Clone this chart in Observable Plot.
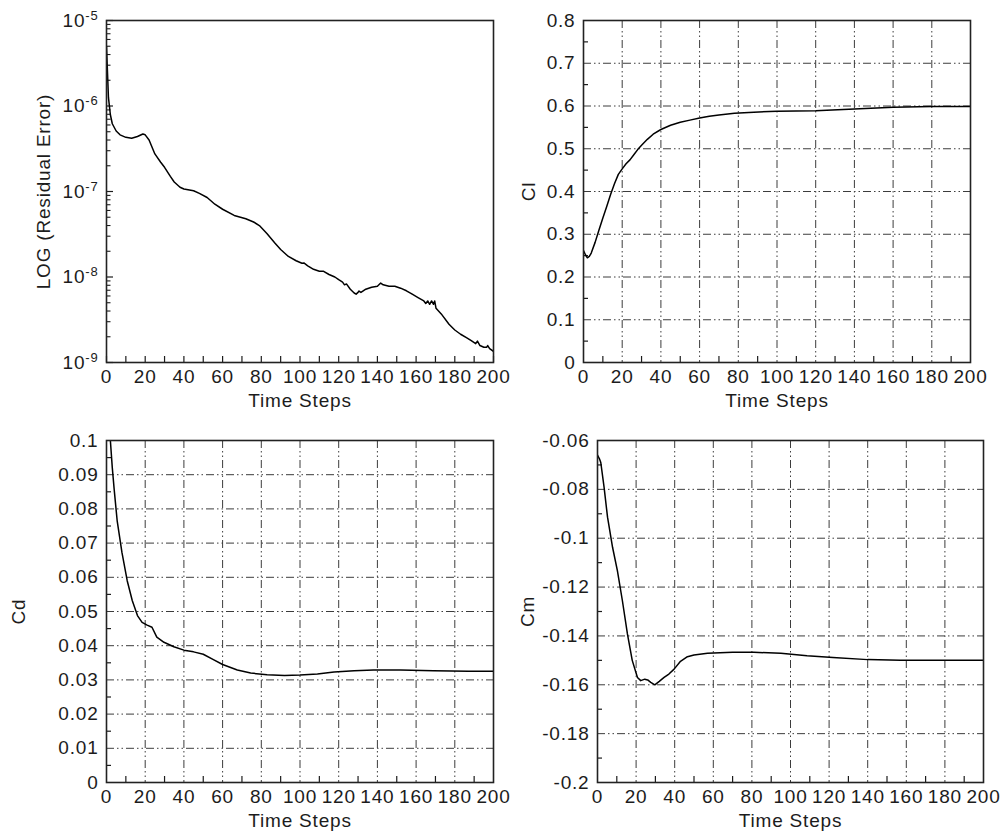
<!DOCTYPE html>
<html>
<head>
<meta charset="utf-8">
<script src="https://cdn.jsdelivr.net/npm/d3@7"></script>
<script src="https://cdn.jsdelivr.net/npm/@observablehq/plot@0.6"></script>
<style>
  body { margin: 0; background: #fff; }
  #wrap { position: relative; width: 1007px; height: 835px; background: #fff; }
  #wrap svg { position: absolute; overflow: visible; }
  #wrap svg text { letter-spacing: 0.8px; }
</style>
</head>
<body>
<div id="wrap"></div>
<script>
// ---------- Data ----------
const xLabel = "Time Steps";
const xTickValues = [0, 20, 40, 60, 80, 100, 120, 140, 160, 180, 200];

// Panel 1: residual error (log scale)
const residualSteps = [0, 0.5, 1, 2, 3, 5, 7, 10, 13, 16, 18.8, 20, 22, 25, 28, 30, 33, 35, 38, 40, 45, 48, 52, 56, 60, 66, 72, 76, 79, 83, 87, 90, 94, 98, 101, 102, 104, 107, 110, 112, 115, 118, 120, 122, 123, 124, 126, 128, 129, 130, 130.5, 131.5, 134, 137, 140, 141.7, 143, 146, 149, 152, 155, 158, 161, 164, 165, 166, 167, 168, 169, 169.6, 170.3, 173, 177, 180, 183, 186, 188.5, 190.8, 191.7, 193, 195, 196.5, 197, 198, 200];
const residualValues = [5.0e-6, 2.5e-6, 1.26e-6, 7.9e-7, 6.2e-7, 5.1e-7, 4.6e-7, 4.3e-7, 4.2e-7, 4.4e-7, 4.7e-7, 4.6e-7, 4.0e-7, 2.75e-7, 2.2e-7, 1.92e-7, 1.5e-7, 1.29e-7, 1.12e-7, 1.07e-7, 1.02e-7, 9.5e-8, 8.5e-8, 7.1e-8, 6.2e-8, 5.25e-8, 4.8e-8, 4.4e-8, 4.0e-8, 3.2e-8, 2.5e-8, 2.1e-8, 1.74e-8, 1.55e-8, 1.45e-8, 1.46e-8, 1.35e-8, 1.23e-8, 1.17e-8, 1.17e-8, 1.07e-8, 1.0e-8, 9.3e-9, 8.7e-9, 8.1e-9, 8.3e-9, 7.2e-9, 6.5e-9, 6.3e-9, 6.6e-9, 6.85e-9, 6.6e-9, 7.2e-9, 7.6e-9, 7.8e-9, 8.5e-9, 8.1e-9, 7.8e-9, 7.8e-9, 7.4e-9, 6.9e-9, 6.3e-9, 5.75e-9, 5.25e-9, 4.9e-9, 5.25e-9, 4.8e-9, 5.25e-9, 4.8e-9, 5.25e-9, 4.3e-9, 3.7e-9, 2.8e-9, 2.4e-9, 2.14e-9, 1.95e-9, 1.8e-9, 1.66e-9, 1.78e-9, 1.58e-9, 1.51e-9, 1.51e-9, 1.58e-9, 1.45e-9, 1.35e-9];
const residualTicks = [1e-9, 1e-8, 1e-7, 1e-6, 1e-5];
const residualLabel = "LOG (Residual Error)";

// Panel 2: lift coefficient
const clSteps = [0, 1, 2, 3, 4, 6, 8, 10, 12, 14, 16, 18, 20, 22, 24, 26, 28, 30, 33, 36, 40, 45, 50, 55, 60, 65, 70, 78, 88, 100, 120, 140, 160, 180, 200];
const clValues = [0.262, 0.252, 0.245, 0.248, 0.256, 0.281, 0.31, 0.338, 0.365, 0.393, 0.418, 0.44, 0.453, 0.465, 0.474, 0.486, 0.498, 0.508, 0.522, 0.534, 0.545, 0.555, 0.562, 0.567, 0.572, 0.576, 0.579, 0.583, 0.5855, 0.588, 0.589, 0.593, 0.597, 0.599, 0.599];
const clTicks = [0, 0.1, 0.2, 0.3, 0.4, 0.5, 0.6, 0.7, 0.8];
const clLabel = "Cl";

// Panel 3: drag coefficient
const cdSteps = [2, 3, 4, 5.5, 8, 10.7, 13.3, 16, 18.4, 21, 23.5, 26, 29.7, 34.8, 40, 45, 50, 55, 60, 67.6, 74.5, 83, 92, 100, 109, 117.6, 128, 138, 152, 169, 187, 200];
const cdValues = [0.1, 0.092, 0.0855, 0.0766, 0.0672, 0.059, 0.0532, 0.0488, 0.0468, 0.046, 0.0454, 0.0425, 0.041, 0.0397, 0.0387, 0.0382, 0.0375, 0.036, 0.0345, 0.0329, 0.032, 0.0315, 0.0313, 0.0314, 0.0317, 0.0323, 0.0327, 0.0329, 0.0329, 0.0327, 0.0325, 0.0325];
const cdTicks = [0, 0.01, 0.02, 0.03, 0.04, 0.05, 0.06, 0.07, 0.08, 0.09, 0.1];
const cdLabel = "Cd";

// Panel 4: moment coefficient
const cmSteps = [0, 1, 1.7, 3.4, 5.2, 7.8, 10.3, 12.9, 15.5, 18, 20.7, 22.4, 24.5, 26, 27.6, 29.7, 32, 34.5, 37, 39.7, 43, 46.6, 50, 57, 70, 81, 95, 108.6, 122, 140, 157, 200];
const cmValues = [-0.066, -0.0675, -0.069, -0.0791, -0.0914, -0.1037, -0.1133, -0.1256, -0.1392, -0.150, -0.157, -0.1583, -0.1577, -0.158, -0.159, -0.160, -0.1586, -0.157, -0.1556, -0.1536, -0.1504, -0.1485, -0.1478, -0.1471, -0.1467, -0.1467, -0.1471, -0.1481, -0.1488, -0.1497, -0.150, -0.150];
const cmTicks = [-0.2, -0.18, -0.16, -0.14, -0.12, -0.1, -0.08, -0.06];
const cmLabel = "Cm";

// ---------- Drawing ----------
const FONT = "'Liberation Sans', Arial, Helvetica, sans-serif";
const FS = 19;
const INK = "#1c1c1c";
const GRID = "#3c3c3c";
const DASH = "8,3,1.5,3,1.5,3";

const zip = (xs, ys) => xs.map((x, i) => ({t: x, v: ys[i]}));
const fmt = d => String(Math.round(d * 1000) / 1000);

function midpoints(ticks) {
  const out = [];
  for (let i = 0; i < ticks.length - 1; i++) out.push((ticks[i] + ticks[i + 1]) / 2);
  return out;
}

function panel(cfg) {
  const pw = cfg.width - cfg.mL - cfg.mR;
  const ph = cfg.height - cfg.mT - cfg.mB;
  const xMinor = midpoints(xTickValues);
  const marks = [];
  if (cfg.grid) {
    marks.push(Plot.ruleX(xTickValues.slice(1, -1), {x: d => d, stroke: GRID, strokeWidth: 1, strokeDasharray: DASH}));
    marks.push(Plot.ruleY(cfg.yTicks.slice(1, -1), {y: d => d, stroke: GRID, strokeWidth: 1, strokeDasharray: DASH}));
  }
  // inward ticks on the bottom axis
  marks.push(Plot.tickX(cfg.grid ? xMinor : xTickValues.concat(xMinor), {x: d => d, insetTop: ph - 6, stroke: INK, strokeWidth: 1.2}));
  // inward ticks on the left axis
  if (cfg.log) {
    const minor = [];
    for (let k = -9; k < -5; k++) for (let m = 2; m <= 9; m++) minor.push(m * Math.pow(10, k));
    marks.push(Plot.tickY(minor, {y: d => d, insetRight: pw - 4.5, stroke: INK, strokeWidth: 1.1}));
    marks.push(Plot.tickY(cfg.yTicks, {y: d => d, insetRight: pw - 7, stroke: INK, strokeWidth: 1.2}));
  } else {
    marks.push(Plot.tickY(midpoints(cfg.yTicks), {y: d => d, insetRight: pw - 5, stroke: INK, strokeWidth: 1.2}));
  }
  marks.push(Plot.line(cfg.data, {x: "t", y: "v", stroke: "#000", strokeWidth: 1.5, clip: true}));
  marks.push(Plot.frame({stroke: "#222", strokeWidth: 1.6}));
  marks.push(Plot.axisX({ticks: xTickValues, tickSize: 0, tickPadding: 7, tickFormat: d => String(d), label: null, fill: INK, fontSize: FS}));
  marks.push(Plot.axisY({ticks: cfg.yTicks, tickSize: 0, tickPadding: 8, tickFormat: cfg.yFormat, label: null, fill: INK, fontSize: FS}));
  marks.push(Plot.text([xLabel], {frameAnchor: "bottom", textAnchor: "middle", lineAnchor: "middle", dy: 38, fill: INK, fontSize: FS}));
  marks.push(Plot.text([cfg.yLabel], {frameAnchor: "left", textAnchor: "middle", lineAnchor: "middle", rotate: -90, dx: cfg.yLabelDx, fill: INK, fontSize: FS}));

  const svg = Plot.plot({
    width: cfg.width,
    height: cfg.height,
    marginLeft: cfg.mL,
    marginRight: cfg.mR,
    marginTop: cfg.mT,
    marginBottom: cfg.mB,
    style: {fontFamily: FONT, fontSize: FS + "px", color: INK, background: "transparent", overflow: "visible"},
    x: {domain: [0, 200]},
    y: cfg.log ? {type: "log", domain: [1e-9, 1e-5]} : {domain: [cfg.yTicks[0], cfg.yTicks[cfg.yTicks.length - 1]]},
    marks
  });
  svg.style.left = cfg.left + "px";
  svg.style.top = cfg.top + "px";
  // superscript exponents on log tick labels
  d3.select(svg).selectAll("text").each(function () {
    const m = /^10\^(-?\d+)$/.exec(this.textContent);
    if (m) {
      const s = d3.select(this);
      s.text(null);
      s.append("tspan").text("10");
      s.append("tspan").attr("dy", "-7").attr("font-size", "13px").text(m[1]);
    }
  });
  document.getElementById("wrap").appendChild(svg);
}

panel({
  left: 0, top: 0, width: 503, height: 420, mL: 106, mR: 10, mT: 20, mB: 58,
  log: true, grid: false, yTicks: residualTicks,
  yFormat: d => "10^" + Math.round(Math.log10(d)),
  yLabel: residualLabel, yLabelDx: -63,
  data: zip(residualSteps, residualValues)
});
panel({
  left: 503, top: 0, width: 504, height: 420, mL: 80, mR: 37, mT: 20, mB: 58,
  log: false, grid: true, yTicks: clTicks, yFormat: fmt,
  yLabel: clLabel, yLabelDx: -55,
  data: zip(clSteps, clValues)
});
panel({
  left: 0, top: 420, width: 503, height: 415, mL: 106, mR: 10, mT: 20, mB: 53,
  log: false, grid: true, yTicks: cdTicks, yFormat: fmt,
  yLabel: cdLabel, yLabelDx: -88,
  data: zip(cdSteps, cdValues)
});
panel({
  left: 503, top: 420, width: 504, height: 415, mL: 94, mR: 24, mT: 20, mB: 53,
  log: false, grid: true, yTicks: cmTicks, yFormat: fmt,
  yLabel: cmLabel, yLabelDx: -70,
  data: zip(cmSteps, cmValues)
});
</script>
</body>
</html>
